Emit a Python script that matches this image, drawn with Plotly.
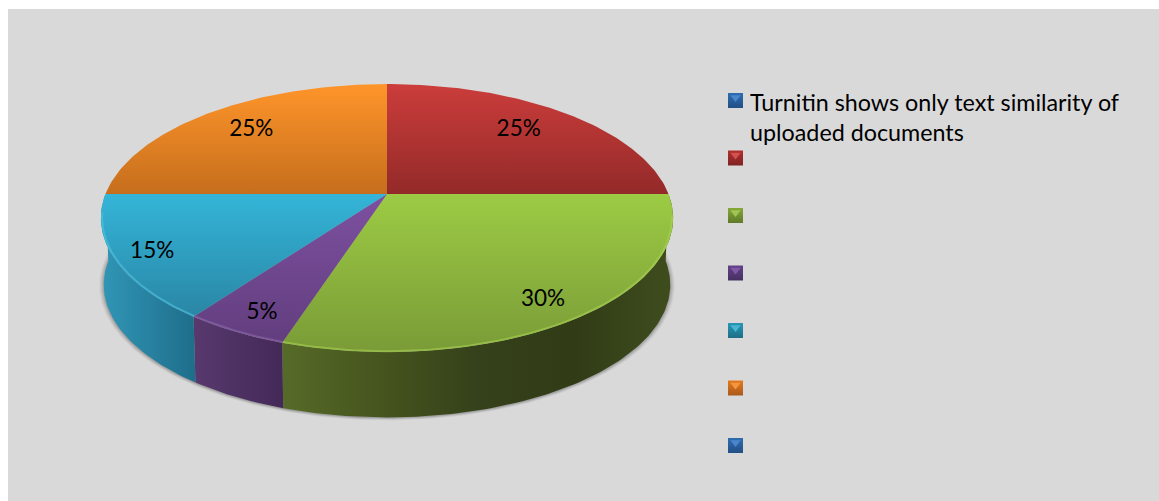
import numpy as np
import plotly.graph_objects as go

# Survey shares, clockwise from twelve o'clock
category_lines = [
    ["Turnitin shows only text similarity of", "uploaded documents"],
    [], [], [], [], [], [],
]
shares = [0, 25, 30, 5, 15, 25, 0]
share_labels = ["", "25%", "30%", "5%", "15%", "25%", ""]

# Style per slice
top_colors = [
    None,
    ("#cb3d3b", "#932a29"),
    ("#9ccb44", "#7a9b37"),
    ("#7d50a0", "#623e7e"),
    ("#34b5d8", "#2a86a5"),
    ("#ff952a", "#c56e1d"),
    None,
]
wall_stops = [
    None,
    ("#2f1616", "#2f1616"),
    ("#566b28", "#46541e", "#35411a", "#313c16", "#3f4d1e"),
    ("#58396e", "#432958"),
    ("#3196b6", "#1e6e8b"),
    ("#8a5015", "#8a5015"),
    None,
]
rim_colors = [None, "#c94a48", "#a9d552", "#906bb0", "#52c8e6", "#ffa23f", None]
key_dark = ["#234f86", "#7f2423", "#5f7a2a", "#46305f", "#1d6f86", "#a9591a", "#234f86"]
key_mid = ["#2f6cb0", "#b02f2d", "#86a83a", "#64418a", "#2a96b4", "#e57a1f", "#2f6cb0"]
key_light = ["#4a86cc", "#d4524e", "#a2c452", "#8059a6", "#47b6d2", "#f39640", "#4a86cc"]

# Label placement: radial position on the disc plus a fine pixel nudge
label_radius = [0, 0.77, 0.83, 0.84, 0.87, 0.77, 0]
label_nudge = [(0, 0), (-8, 1), (0, 7), (-1, 7), (0, 3), (4, 1), (0, 0)]

# Perspective projection of the pie disc onto the canvas
CX, CY = 387.0, 194.0
RX, RY, PERSP = 281.5, 129.7, 0.179
DEPTH, BASE_SCALE = 67.0, 0.99
FONT = "Lato"
CAPTION_SIZE = 23.3
LABEL_SIZE = 22.5


def project(theta, r=1.0, scale=1.0, dy=0.0):
    u, v = r * np.sin(theta), r * np.cos(theta)
    d = 1 + PERSP * v
    return CX + scale * RX * u / d, CY + dy - scale * RY * v / d


def ramp(colors):
    return [[i / (len(colors) - 1), c] for i, c in enumerate(colors)]


fig = go.Figure()

# Soft shadow under the base
full = np.linspace(0, 2 * np.pi, 361)
for grow, alpha in [(4.5, 0.05), (3.5, 0.07), (2.5, 0.09), (1.5, 0.12), (0.5, 0.15)]:
    sx, sy = project(full, scale=BASE_SCALE + grow / RX, dy=DEPTH + 0.5)
    fig.add_trace(go.Scatter(x=sx, y=sy, mode="lines", fill="toself", line_width=0,
                             fillcolor=f"rgba(70,70,70,{alpha})", hoverinfo="skip"))

edges = np.radians(np.cumsum([0] + shares) * 3.6)
spans = list(zip(edges[:-1], edges[1:]))

# Outer walls: only the front half of the rim can be seen
for (a, b), share, stops in zip(spans, shares, wall_stops):
    lo, hi = max(a, np.pi / 2), min(b, 3 * np.pi / 2)
    if share == 0 or lo >= hi:
        continue
    t = np.linspace(lo, hi, max(int(np.degrees(hi - lo)), 2) + 1)
    x1, y1 = project(t)
    x2, y2 = project(t[::-1], scale=BASE_SCALE, dy=DEPTH)
    xs, ys = np.r_[x1, x2, x1[0]], np.r_[y1, y2, y1[0]]
    fig.add_trace(go.Scatter(
        x=xs, y=ys, mode="lines", fill="toself", line_width=0, hoverinfo="skip",
        fillgradient=dict(type="horizontal", colorscale=ramp(stops),
                          start=float(xs.min()), stop=float(xs.max())),
    ))

# Top faces with the vertical shading of each slice
for (a, b), share, cols in zip(spans, shares, top_colors):
    if share == 0:
        continue
    t = np.linspace(a, b, max(int(np.degrees(b - a)), 2) + 1)
    x, y = project(t)
    xs, ys = np.r_[CX, x, CX], np.r_[CY, y, CY]
    fig.add_trace(go.Scatter(
        x=xs, y=ys, mode="lines", fill="toself", line_width=0, hoverinfo="skip",
        fillgradient=dict(type="vertical", colorscale=ramp(cols),
                          start=float(ys.min()), stop=float(ys.max())),
    ))

# Bevel highlight along the front of the rim
for (a, b), share, rim in zip(spans, shares, rim_colors):
    lo, hi = max(a, np.radians(100)), min(b, np.radians(262))
    if share == 0 or lo >= hi:
        continue
    t = np.linspace(lo, hi, 90)
    x, y = project(t, r=0.996)
    fig.add_trace(go.Scatter(x=x, y=y, mode="lines", hoverinfo="skip", opacity=0.55,
                             line=dict(color=rim, width=2)))

# Percentage labels at each slice's mid angle
mids = [(a + b) / 2 for a, b in spans]
lx, ly = zip(*[project(m, r=r) for m, r in zip(mids, label_radius)])
fig.add_trace(go.Scatter(
    x=[x + n[0] for x, n, s in zip(lx, label_nudge, shares) if s],
    y=[y + n[1] for y, n, s in zip(ly, label_nudge, shares) if s],
    text=[s for s in share_labels if s], mode="text", hoverinfo="skip",
    textfont=dict(family=FONT, size=LABEL_SIZE, color="black"),
))

# Key: bevelled swatch per category, built from a shaded square and a light wedge
KEY_X, KEY_TOP, KEY_STEP = 735.5, 100.5, 57.5
key_y = [KEY_TOP + KEY_STEP * i for i in range(len(category_lines))]
fig.add_trace(go.Scatter(
    x=[KEY_X] * len(key_y), y=key_y, mode="markers", hoverinfo="skip",
    marker=dict(symbol="square", size=15, color=key_mid,
                gradient=dict(type="vertical", color=key_dark),
                line=dict(width=0)),
))
fig.add_trace(go.Scatter(
    x=[KEY_X] * len(key_y), y=[v - 3 for v in key_y], mode="markers", hoverinfo="skip",
    marker=dict(symbol="triangle-down", size=9, color=key_light, line=dict(width=0)),
))
LINE_STEP = 29.5
for lines, yy in zip(category_lines, key_y):
    for i, line in enumerate(lines):
        fig.add_annotation(x=747.5, y=yy + 1.5 + i * LINE_STEP, text=line, xanchor="left",
                           yanchor="middle", align="left", showarrow=False,
                           xref="x", yref="y",
                           font=dict(family=FONT, size=CAPTION_SIZE, color="black"))

fig.update_layout(
    width=1159, height=501, autosize=False, showlegend=False,
    margin=dict(l=0, r=0, t=0, b=0),
    paper_bgcolor="white", plot_bgcolor="#d9d9d9",
    xaxis=dict(domain=[8 / 1159, 1], range=[8, 1159], visible=False, fixedrange=True),
    yaxis=dict(domain=[0, 1 - 9 / 501], range=[501, 9], visible=False, fixedrange=True),
)

fig.write_html("out.html", config={"displayModeBar": False})
